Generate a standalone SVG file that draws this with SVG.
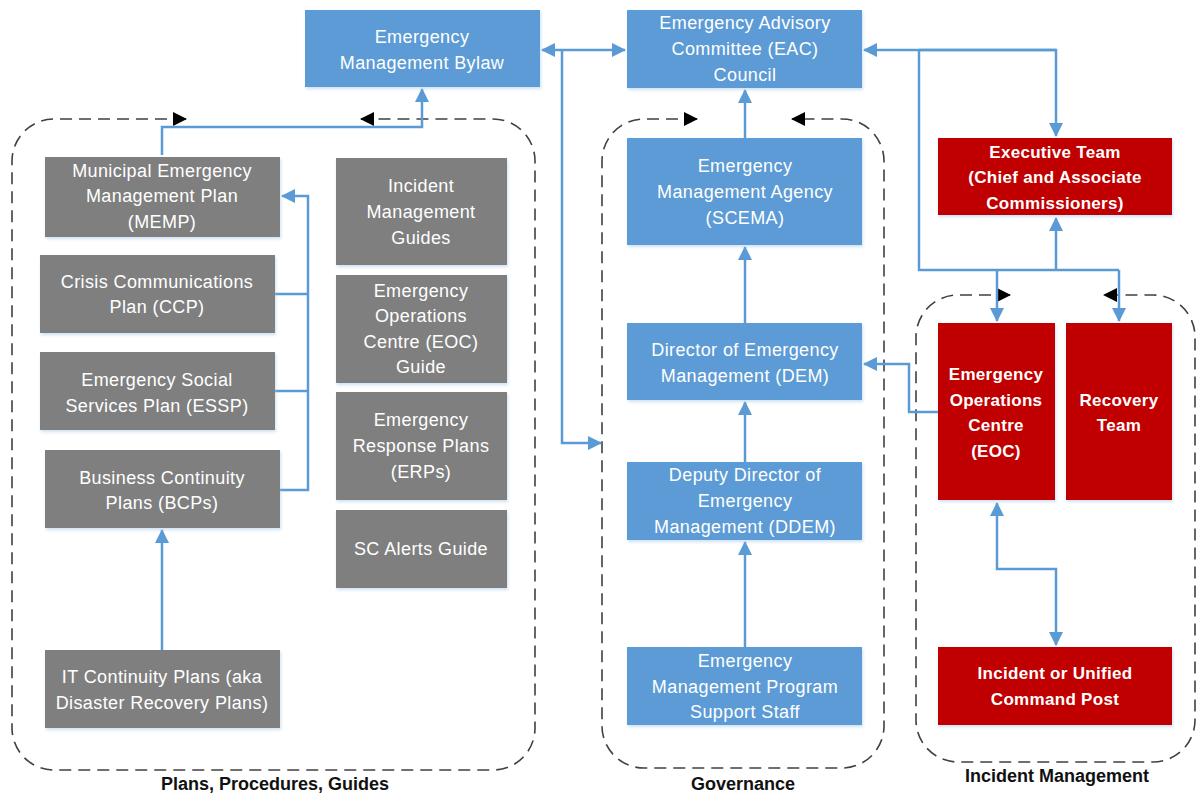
<svg xmlns="http://www.w3.org/2000/svg" width="1197" height="793" viewBox="0 0 1197 793">
<defs>
<marker id="ba" markerUnits="userSpaceOnUse" markerWidth="14" markerHeight="14" refX="13" refY="7" orient="auto-start-reverse"><path d="M0,0 L14,7 L0,14 z" fill="#5B9BD5"/></marker>
<marker id="da" markerUnits="userSpaceOnUse" markerWidth="14" markerHeight="14" refX="13" refY="7" orient="auto-start-reverse"><path d="M0,0 L14,7 L0,14 z" fill="#000"/></marker>
<filter id="sh" x="-5%" y="-5%" width="112%" height="115%"><feDropShadow dx="1" dy="2" stdDeviation="1.5" flood-color="#9DC3E6" flood-opacity="0.5"/></filter>
</defs>
<style>
.blue{fill:#5B9BD5;filter:url(#sh)}
.gray{fill:#7F7F7F;filter:url(#sh)}
.red{fill:#C00000;filter:url(#sh)}
.t{font-family:"Liberation Sans",Arial,sans-serif;font-size:18px;fill:#fff;text-anchor:middle;letter-spacing:0.4px}
.tb{font-family:"Liberation Sans",Arial,sans-serif;font-size:17px;font-weight:bold;fill:#fff;text-anchor:middle;letter-spacing:0.3px}
.lbl{font-family:"Liberation Sans",Arial,sans-serif;font-size:18px;font-weight:bold;fill:#111;text-anchor:middle}
.c{fill:none;stroke:#5B9BD5;stroke-width:2.5}
.d{fill:none;stroke:#404040;stroke-width:1.6;stroke-dasharray:12 7}
</style>
<g id="containers">
<path class="d" d="M186,119 L54,119 A42,42 0 0 0 12,161 L12,728 A42,42 0 0 0 54,770 L493,770 A42,42 0 0 0 535,728 L535,161 A42,42 0 0 0 493,119 L361,119" marker-start="url(#da)" marker-end="url(#da)"/>
<path class="d" d="M697,119 L644,119 A42,42 0 0 0 602,161 L602,726 A42,42 0 0 0 644,768 L842,768 A42,42 0 0 0 884,726 L884,161 A42,42 0 0 0 842,119 L792,119" marker-start="url(#da)" marker-end="url(#da)"/>
<path class="d" d="M1010,295 L958,295 A42,42 0 0 0 916,337 L916,720 A42,42 0 0 0 958,762 L1153,762 A42,42 0 0 0 1195,720 L1195,337 A42,42 0 0 0 1153,295 L1104,295" marker-start="url(#da)" marker-end="url(#da)"/>
<text class="lbl" x="275" y="790">Plans, Procedures, Guides</text>
<text class="lbl" x="743" y="790">Governance</text>
<text class="lbl" x="1057" y="782">Incident Management</text>
</g>
<g id="connectors">
<path class="c" d="M162,155 L162,127 L422,127 L422,89" marker-end="url(#ba)"/>
<path class="c" d="M275,294 L308,294 M275,391 L308,391 M280,490 L308,490 L308,196 L282,196" marker-end="url(#ba)"/>
<path class="c" d="M162,650 L162,530" marker-end="url(#ba)"/>
<path class="c" d="M542,50 L625,50" marker-start="url(#ba)" marker-end="url(#ba)"/>
<path class="c" d="M562,50 L562,443 L601,443" marker-end="url(#ba)"/>
<path class="c" d="M745,138 L745,90" marker-end="url(#ba)"/>
<path class="c" d="M745,323 L745,247" marker-end="url(#ba)"/>
<path class="c" d="M745,462 L745,402" marker-end="url(#ba)"/>
<path class="c" d="M745,647 L745,542" marker-end="url(#ba)"/>
<path class="c" d="M1056,50 L864,50" marker-end="url(#ba)"/>
<path class="c" d="M919,50 L1056,50 L1056,136" marker-end="url(#ba)"/>
<path class="c" d="M919,50 L919,270 L1119,270"/>
<path class="c" d="M1056,270 L1056,218" marker-end="url(#ba)"/>
<path class="c" d="M997,270 L997,321" marker-end="url(#ba)"/>
<path class="c" d="M1119,270 L1119,321" marker-end="url(#ba)"/>
<path class="c" d="M938,412 L909,412 L909,364 L864,364" marker-end="url(#ba)"/>
<path class="c" d="M997,503 L997,569 L1056,569 L1056,645" marker-start="url(#ba)" marker-end="url(#ba)"/>
</g>
<g id="bylaw"><rect class="blue" x="305" y="10" width="235" height="77"/><text class="t" x="422" y="43">Emergency</text><text class="t" x="422" y="69">Management Bylaw</text></g>
<g id="eac"><rect class="blue" x="627" y="10" width="235" height="78"/><text class="t" x="745" y="29">Emergency Advisory</text><text class="t" x="745" y="55">Committee (EAC)</text><text class="t" x="745" y="81">Council</text></g>
<g id="exec"><rect class="red" x="938" y="138" width="234" height="77"/><text class="tb" x="1055" y="158">Executive Team</text><text class="tb" x="1055" y="183">(Chief and Associate</text><text class="tb" x="1055" y="209">Commissioners)</text></g>
<g id="memp"><rect class="gray" x="45" y="157" width="235" height="80"/><text class="t" x="162" y="177">Municipal Emergency</text><text class="t" x="162" y="202">Management Plan</text><text class="t" x="162" y="228">(MEMP)</text></g>
<g id="ccp"><rect class="gray" x="40" y="255" width="235" height="78"/><text class="t" x="157" y="288">Crisis Communications</text><text class="t" x="157" y="313">Plan (CCP)</text></g>
<g id="essp"><rect class="gray" x="40" y="352" width="235" height="78"/><text class="t" x="157" y="386">Emergency Social</text><text class="t" x="157" y="412">Services Plan (ESSP)</text></g>
<g id="bcp"><rect class="gray" x="45" y="450" width="235" height="78"/><text class="t" x="162" y="484">Business Continuity</text><text class="t" x="162" y="509">Plans (BCPs)</text></g>
<g id="itcp"><rect class="gray" x="45" y="650" width="235" height="78"/><text class="t" x="162" y="683">IT Continuity Plans (aka</text><text class="t" x="162" y="709">Disaster Recovery Plans)</text></g>
<g id="img"><rect class="gray" x="336" y="158" width="171" height="107"/><text class="t" x="421" y="192">Incident</text><text class="t" x="421" y="218">Management</text><text class="t" x="421" y="244">Guides</text></g>
<g id="eocguide"><rect class="gray" x="336" y="275" width="171" height="108"/><text class="t" x="421" y="297">Emergency</text><text class="t" x="421" y="322">Operations</text><text class="t" x="421" y="348">Centre (EOC)</text><text class="t" x="421" y="373">Guide</text></g>
<g id="erp"><rect class="gray" x="336" y="392" width="171" height="108"/><text class="t" x="421" y="426">Emergency</text><text class="t" x="421" y="452">Response Plans</text><text class="t" x="421" y="478">(ERPs)</text></g>
<g id="scalerts"><rect class="gray" x="336" y="510" width="171" height="78"/><text class="t" x="421" y="555">SC Alerts Guide</text></g>
<g id="scema"><rect class="blue" x="627" y="138" width="235" height="107"/><text class="t" x="745" y="172">Emergency</text><text class="t" x="745" y="198">Management Agency</text><text class="t" x="745" y="224">(SCEMA)</text></g>
<g id="dem"><rect class="blue" x="627" y="323" width="235" height="77"/><text class="t" x="745" y="356">Director of Emergency</text><text class="t" x="745" y="382">Management (DEM)</text></g>
<g id="ddem"><rect class="blue" x="627" y="462" width="235" height="78"/><text class="t" x="745" y="481">Deputy Director of</text><text class="t" x="745" y="507">Emergency</text><text class="t" x="745" y="533">Management (DDEM)</text></g>
<g id="support"><rect class="blue" x="627" y="647" width="235" height="78"/><text class="t" x="745" y="667">Emergency</text><text class="t" x="745" y="693">Management Program</text><text class="t" x="745" y="718">Support Staff</text></g>
<g id="eoc"><rect class="red" x="938" y="323" width="117" height="177"/><text class="tb" x="996" y="380">Emergency</text><text class="tb" x="996" y="406">Operations</text><text class="tb" x="996" y="431">Centre</text><text class="tb" x="996" y="457">(EOC)</text></g>
<g id="recovery"><rect class="red" x="1066" y="323" width="106" height="177"/><text class="tb" x="1119" y="406">Recovery</text><text class="tb" x="1119" y="431">Team</text></g>
<g id="icp"><rect class="red" x="938" y="647" width="234" height="78"/><text class="tb" x="1055" y="679">Incident or Unified</text><text class="tb" x="1055" y="705">Command Post</text></g>
</svg>
